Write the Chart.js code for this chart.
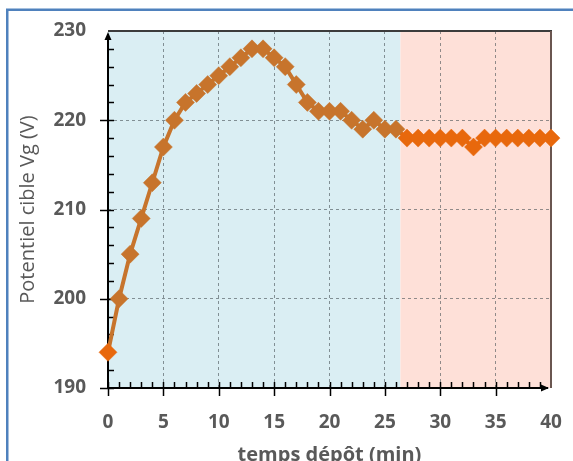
<!DOCTYPE html>
<html><head><meta charset="utf-8">
<script src="https://cdn.jsdelivr.net/npm/chart.js@4"></script>
<style>html,body{margin:0;padding:0;overflow:hidden;background:#fff;width:573px;height:461px}</style>
</head><body>
<canvas id="c" width="573" height="480" style="display:block"></canvas>
<script>
// ---- data ----
const timesMin = [0,1,2,3,4,5,6,7,8,9,10,11,12,13,14,15,16,17,18,19,20,21,22,23,24,25,26,27,28,29,30,31,32,33,34,35,36,37,38,39,40];
const potentialV = [194,200,205,209,213,217,220,222,223,224,225,226,227,228,228,227,226,224,222,221,221,221,220,219,220,219,219,218,218,218,218,218,218,217,218,218,218,218,218,218,218];
const phaseSplitMin = 26.4;           // boundary between the two shaded phases
const xRange = [0, 40];
const yRange = [190, 230];
const xTickStep = 5, xMinorStep = 1;
const yTickStep = 10, yMinorStep = 2;
const yTitle = 'Potentiel cible Vg (V)';
const xTitle = 'temps dépôt (min)';

// ---- styles ----
const BROWN = '#C7742C';
const ORANGE = '#E8680C';
const BLUE_BG = '#DAEEF3';
const PINK_BG = '#FEE0D8';
const LABEL = '#595959';
const GRID = 'rgba(70,80,85,0.6)';
const FONT = '"Open Sans", "DejaVu Sans", sans-serif';

const decor = {
  id: 'decor',
  beforeDraw(chart) {
    const {ctx, chartArea: a, scales: {x}} = chart;
    ctx.save();
    ctx.strokeStyle = '#4F81BD';
    ctx.lineWidth = 2.5;
    ctx.strokeRect(7.25, 9.75, 700, 700);
    const xs = x.getPixelForValue(phaseSplitMin);
    ctx.fillStyle = BLUE_BG;
    ctx.fillRect(a.left, a.top, xs - a.left, a.bottom - a.top);
    ctx.fillStyle = PINK_BG;
    ctx.fillRect(xs, a.top, a.right - xs, a.bottom - a.top);
    ctx.restore();
  },
  beforeDatasetsDraw(chart) {
    const {ctx, chartArea: a, scales: {x, y}} = chart;
    ctx.save();
    ctx.lineWidth = 2;
    ctx.strokeStyle = '#3C3C3C';
    ctx.beginPath(); ctx.moveTo(a.left, a.top); ctx.lineTo(a.right + 1, a.top); ctx.stroke();
    ctx.strokeStyle = '#6A5650';
    ctx.beginPath(); ctx.moveTo(a.right, a.top); ctx.lineTo(a.right, a.bottom); ctx.stroke();
    ctx.strokeStyle = '#000';
    ctx.fillStyle = '#000';
    ctx.lineWidth = 2;
    ctx.beginPath(); ctx.moveTo(a.left, a.bottom + 1); ctx.lineTo(a.left, a.top + 3); ctx.stroke();
    ctx.beginPath(); ctx.moveTo(a.left - 1, a.bottom); ctx.lineTo(a.right - 3, a.bottom); ctx.stroke();
    ctx.beginPath(); ctx.moveTo(a.left, a.top + 1); ctx.lineTo(a.left - 3.5, a.top + 9); ctx.lineTo(a.left + 3.5, a.top + 9); ctx.closePath(); ctx.fill();
    ctx.beginPath(); ctx.moveTo(a.right - 2, a.bottom); ctx.lineTo(a.right - 10, a.bottom - 3.5); ctx.lineTo(a.right - 10, a.bottom + 3.5); ctx.closePath(); ctx.fill();
    ctx.lineWidth = 1.5;
    for (let v = yRange[0]; v < yRange[1]; v += yMinorStep) {
      const py = Math.round(y.getPixelForValue(v)) + 0.5;
      const major = Math.abs(v % yTickStep) < 1e-9;
      ctx.beginPath(); ctx.moveTo(a.left - (major ? 8 : 0), py); ctx.lineTo(a.left + 6, py); ctx.stroke();
    }
    for (let v = xRange[0]; v < xRange[1]; v += xMinorStep) {
      const px = Math.round(x.getPixelForValue(v)) + 0.5;
      const major = Math.abs(v % xTickStep) < 1e-9;
      ctx.beginPath(); ctx.moveTo(px, a.bottom - 6); ctx.lineTo(px, a.bottom + (major ? 8 : 0)); ctx.stroke();
    }
    ctx.restore();
  }
};

const isOrangePoint = (ctx) => {
  const v = ctx.raw ? ctx.raw.x : undefined;
  return v === xRange[0] || v > phaseSplitMin;
};

new Chart(document.getElementById('c'), {
  type: 'line',
  data: {
    datasets: [{
      data: timesMin.map((t, i) => ({x: t, y: potentialV[i]})),
      borderColor: BROWN,
      borderWidth: 4,
      pointStyle: 'rectRot',
      pointRadius: 9,
      pointHoverRadius: 9,
      pointBorderWidth: 0.5,
      pointBackgroundColor: c => isOrangePoint(c) ? ORANGE : BROWN,
      pointBorderColor: c => isOrangePoint(c) ? ORANGE : BROWN,
      segment: { borderColor: s => s.p0.parsed.x >= phaseSplitMin - 1 ? ORANGE : BROWN },
      tension: 0,
      clip: false
    }]
  },
  options: {
    responsive: false,
    devicePixelRatio: 1,
    animation: false,
    events: [],
    layout: { padding: { top: 31, right: 22, left: 0, bottom: 0 } },
    plugins: { legend: { display: false }, tooltip: { enabled: false } },
    scales: {
      x: {
        type: 'linear', min: xRange[0], max: xRange[1],
        afterFit: s => { s.height = 92; s.paddingLeft = 0; s.paddingRight = 0; },
        border: { display: false, dash: [3, 3] },
        grid: {
          drawTicks: false,
          color: c => (c.tick && (c.tick.value === xRange[0] || c.tick.value === xRange[1])) ? 'rgba(0,0,0,0)' : GRID,
          lineWidth: 1
        },
        ticks: { stepSize: xTickStep, padding: 23, color: LABEL, font: { family: FONT, size: 19, weight: 'bold' } },
        title: { display: true, text: xTitle, color: LABEL, font: { family: FONT, size: 20, weight: 'bold' }, padding: { top: 0, bottom: 13 } }
      },
      y: {
        type: 'linear', min: yRange[0], max: yRange[1],
        afterFit: s => { s.width = 108; s.paddingTop = 0; s.paddingBottom = 0; },
        border: { display: false, dash: [3, 3] },
        grid: {
          drawTicks: false,
          color: c => (c.tick && (c.tick.value === yRange[0] || c.tick.value === yRange[1])) ? 'rgba(0,0,0,0)' : GRID,
          lineWidth: 1
        },
        ticks: { stepSize: yTickStep, padding: 22, color: LABEL, font: { family: FONT, size: 19, weight: 'bold' } },
        title: { display: true, text: yTitle, color: LABEL, font: { family: FONT, size: 20 }, padding: { top: 16, bottom: 0 } }
      }
    }
  },
  plugins: [decor]
});
</script>
</body></html>
